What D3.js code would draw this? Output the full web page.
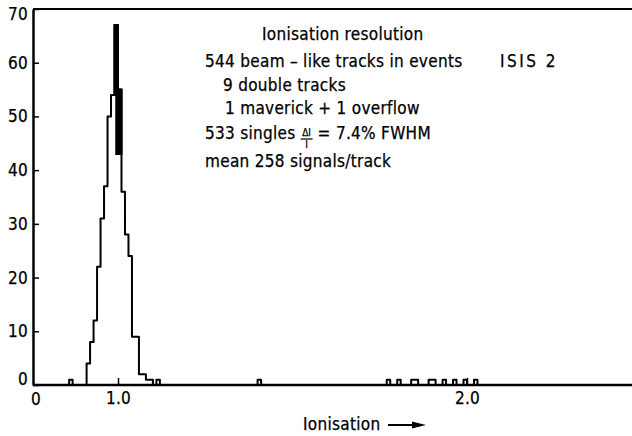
<!DOCTYPE html>
<html>
<head>
<meta charset="utf-8">
<script src="https://cdn.jsdelivr.net/npm/d3@7"></script>
<style>
body { margin: 0; background: #fff; }
svg text { font-family: "DejaVu Sans Condensed", "DejaVu Sans", sans-serif; font-size: 17px; fill: #000;
  stroke: #000; stroke-width: 0.25px; letter-spacing: 0.3px; }
</style>
</head>
<body>
<script>
// histogram, bins of 0.01 in ionisation (lower edge -> entries)
var binWidth = 0.01;
var binStarts = [0.86,
    0.91, 0.92, 0.93, 0.94, 0.95, 0.96, 0.97, 0.98, 0.99,
    1.00, 1.01, 1.02, 1.03, 1.04, 1.05, 1.06, 1.07, 1.08, 1.09, 1.11,
    1.40,
    1.77, 1.80, 1.84, 1.85, 1.89, 1.90, 1.93, 1.96, 1.99, 2.02];
var binCounts = [1,
    4, 8, 12, 22, 31, 37, 50, 54, 67,
    55, 36, 28, 24, 9, 9, 2, 2, 1, 1, 1,
    1,
    1, 1, 1, 1, 1, 1, 1, 1, 1, 1];

// blackened part of the peak
var fillFrom = [0.99, 0.995];
var fillTo = [1.00, 1.01];
var fillLow = [54, 43];
var fillHigh = [67, 55];

var yTicks = [0, 10, 20, 30, 40, 50, 60, 70];
var xTicks = [1.0, 2.0];
var xOriginLabel = "0";
var xTitle = "Ionisation";

var infoTitle = "Ionisation resolution";
var infoLines = ["544 beam \u2013 like tracks in events", "9 double tracks", "1 maverick + 1 overflow"];
var singlesText = ["533 singles", "\u0394I", "I", "= 7.4% FWHM"];
var meanText = "mean 258 signals/track";
var runLabel = "ISIS 2";

var width = 632, height = 436,
    left = 33, right = 632;

var svg = d3.select("body").append("svg")
    .attr("width", width)
    .attr("height", height);

var x = d3.scaleLinear().domain([1.0, 2.0]).range([118, 467]);
var y = d3.scaleLinear().domain([0, 70]).range([385, 9]);

// top frame line
svg.append("line")
    .attr("x1", left).attr("x2", right)
    .attr("y1", y(70)).attr("y2", y(70))
    .attr("stroke", "#000").attr("stroke-width", 2);

// bottom axis line
svg.append("line")
    .attr("x1", left).attr("x2", right)
    .attr("y1", y(0)).attr("y2", y(0))
    .attr("stroke", "#000").attr("stroke-width", 2.5);

// y axis
var yAxis = svg.append("g")
    .attr("transform", "translate(" + left + ",0)")
    .call(d3.axisLeft(y).tickValues(yTicks).tickSizeInner(-6).tickSizeOuter(0).tickPadding(5));
yAxis.select(".domain").attr("stroke-width", 2.5);
yAxis.selectAll(".tick line").attr("stroke-width", 1.5);
yAxis.selectAll(".tick text")
    .style("font-size", "17px")
    .attr("font-family", null)
    .attr("dy", function (d) { return d === 70 ? "0.6em" : (d === 0 ? "-0.02em" : "0.32em"); });

// x axis ticks
var xAxis = svg.append("g")
    .attr("transform", "translate(0," + y(0) + ")")
    .call(d3.axisBottom(x).tickValues(xTicks).tickSizeInner(-7).tickSizeOuter(0).tickPadding(7)
        .tickFormat(d3.format(".1f")));
xAxis.select(".domain").remove();
xAxis.selectAll(".tick line").attr("stroke-width", 1.5);
xAxis.selectAll(".tick text").style("font-size", "17px").attr("font-family", null);

svg.append("text")
    .attr("x", left + 3).attr("y", 405)
    .attr("text-anchor", "middle")
    .text(xOriginLabel);

// histogram outline
var countByBin = new Map();
binStarts.forEach(function (b, i) { countByBin.set(Math.round(b / binWidth), binCounts[i]); });
var keys = Array.from(countByBin.keys());
var kMin = d3.min(keys), kMax = d3.max(keys);
var pts = [];
for (var k = kMin - 1; k <= kMax + 1; k++) {
    pts.push([k * binWidth, countByBin.get(k) || 0]);
}

var line = d3.line()
    .x(function (d) { return x(d[0]); })
    .y(function (d) { return y(d[1]); })
    .curve(d3.curveStepAfter);

svg.append("path")
    .datum(pts)
    .attr("d", line)
    .attr("fill", "none")
    .attr("stroke", "#000")
    .attr("stroke-width", 2)
    .attr("stroke-linejoin", "round");

svg.selectAll("rect.peak")
    .data(fillFrom)
    .enter().append("rect")
    .attr("class", "peak")
    .attr("x", function (d) { return x(d); })
    .attr("width", function (d, i) { return x(fillTo[i]) - x(d); })
    .attr("y", function (d, i) { return y(fillHigh[i]); })
    .attr("height", function (d, i) { return y(fillLow[i]) - y(fillHigh[i]); })
    .attr("fill", "#000")
    .attr("stroke", "#000")
    .attr("stroke-width", 2);

// text block
svg.append("text").attr("x", 262).attr("y", 40).text(infoTitle);
svg.append("text").attr("x", 205).attr("y", 67).text(infoLines[0]);
svg.append("text").attr("x", 223).attr("y", 91).text(infoLines[1]);
svg.append("text").attr("x", 225).attr("y", 114).text(infoLines[2]);
svg.append("text").attr("x", 500).attr("y", 67).style("letter-spacing", "2.5px").text(runLabel);

var s1 = svg.append("text").attr("x", 205).attr("y", 139).text(singlesText[0]);
var fx = 205 + s1.node().getComputedTextLength() + 5;
svg.append("text").attr("x", fx + 6).attr("y", 135.5).attr("text-anchor", "middle")
    .style("font-size", "10px").style("letter-spacing", "0px").text(singlesText[1]);
svg.append("line").attr("x1", fx).attr("x2", fx + 12).attr("y1", 139).attr("y2", 139)
    .attr("stroke", "#000").attr("stroke-width", 1.2);
svg.append("text").attr("x", fx + 6).attr("y", 147.5).attr("text-anchor", "middle")
    .style("font-size", "10px").style("letter-spacing", "0px").text(singlesText[2]);
svg.append("text").attr("x", fx + 17).attr("y", 139).text(singlesText[3]);

svg.append("text").attr("x", 205).attr("y", 167).text(meanText);

// x title with arrow
svg.append("text").attr("x", 303).attr("y", 430).text(xTitle);
svg.append("line").attr("x1", 388).attr("x2", 416).attr("y1", 425).attr("y2", 425)
    .attr("stroke", "#000").attr("stroke-width", 2);
svg.append("path").attr("d", "M412,421.5L426,425L412,428.5Z").attr("fill", "#000");
</script>
</body>
</html>
